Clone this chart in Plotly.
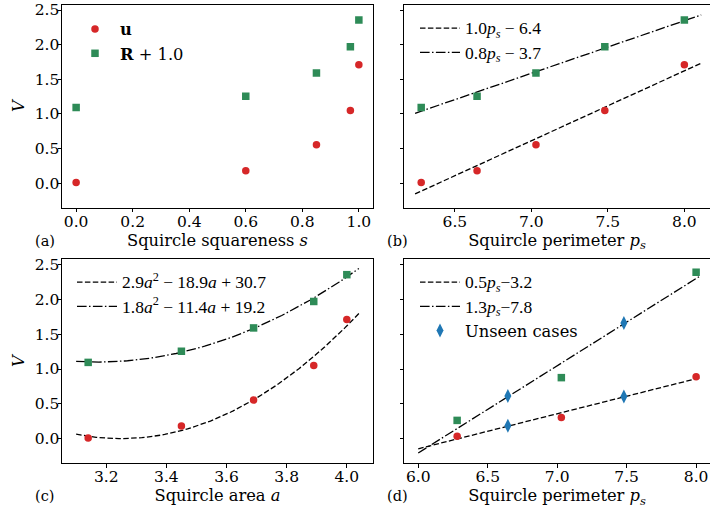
import numpy as np
import plotly.graph_objects as go

# ---------------- data ----------------
squareness = [0.0, 0.6, 0.85, 0.97, 1.0]
perimeter = [6.28, 6.645, 7.03, 7.48, 8.0]
area = [3.14, 3.45, 3.69, 3.89, 4.0]
u_vals = [0.01, 0.18, 0.555, 1.05, 1.71]
R_plus1 = [1.095, 1.255, 1.59, 1.97, 2.355]

# panel (d): training and unseen cases
train_perim = [6.28, 7.03, 8.0]
train_u = [0.033, 0.305, 0.89]
train_R = [0.262, 0.876, 2.39]
unseen_perim = [6.645, 7.48]
unseen_u = [0.186, 0.605]
unseen_R = [0.614, 1.662]

# spans of fitted curves
span_b = [6.24, 8.11]
span_c = [3.10, 4.04]
span_d = [6.00, 8.03]

PS = "<i>p</i><sub><i>s</i></sub>"
MATH = '<span style="font-family:Liberation Serif;font-size:17.5px">{}</span>'
legend_b = [MATH.format("1.0" + PS + " − 6.4"), MATH.format("0.8" + PS + " − 3.7")]
legend_c = [MATH.format("2.9<i>a</i><sup>2</sup> − 18.9<i>a</i> + 30.7"),
            MATH.format("1.8<i>a</i><sup>2</sup> − 11.4<i>a</i> + 19.2")]
legend_d = [MATH.format("0.5" + PS + "−3.2"), MATH.format("1.3" + PS + "−7.8"), "Unseen cases"]

RED = "#d62728"
GREEN = "#2e8b57"
BLUE = "#1f77b4"
FONT = "DejaVu Serif"
DASH = "5.5px,2.4px"
DASHDOT = "9.6px,2.4px,1.5px,2.4px"

fig = go.Figure()

def mk(x, y, color, symbol, xa, ya, name=None, legend=None, show=False, size=7.5):
    fig.add_trace(go.Scatter(x=x, y=y, mode="markers", xaxis=xa, yaxis=ya,
                             marker=dict(color=color, symbol=symbol, size=size,
                                         line=dict(width=0)),
                             name=name, legend=legend, showlegend=show))

def ln(x, y, dash, xa, ya, name, legend):
    fig.add_trace(go.Scatter(x=x, y=y, mode="lines", xaxis=xa, yaxis=ya,
                             line=dict(color="black", width=1.3, dash=dash),
                             name=name, legend=legend, showlegend=True))

# (a)
mk(squareness, u_vals, RED, "circle", "x", "y", "<b>u</b>", "legend", True)
mk(squareness, R_plus1, GREEN, "square", "x", "y", "<b>R</b> + 1.0", "legend", True)

# (b)
pb_u = np.polyfit(perimeter, u_vals, 1)
pb_R = np.polyfit(perimeter, R_plus1, 1)
xb = np.linspace(span_b[0], span_b[1], 50)
ln(xb, np.polyval(pb_u, xb), DASH, "x2", "y2", legend_b[0], "legend2")
ln(xb, np.polyval(pb_R, xb), DASHDOT, "x2", "y2", legend_b[1], "legend2")
mk(perimeter, u_vals, RED, "circle", "x2", "y2")
mk(perimeter, R_plus1, GREEN, "square", "x2", "y2")

# (c)
pc_u = np.polyfit(area, u_vals, 2)
pc_R = np.polyfit(area, R_plus1, 2)
xc = np.linspace(span_c[0], span_c[1], 100)
ln(xc, np.polyval(pc_u, xc), DASH, "x3", "y3", legend_c[0], "legend3")
ln(xc, np.polyval(pc_R, xc), DASHDOT, "x3", "y3", legend_c[1], "legend3")
mk(area, u_vals, RED, "circle", "x3", "y3")
mk(area, R_plus1, GREEN, "square", "x3", "y3")

# (d)
pd_u = np.polyfit(train_perim, train_u, 1)
pd_R = np.polyfit(train_perim, train_R, 1)
xd = np.linspace(span_d[0], span_d[1], 50)
ln(xd, np.polyval(pd_u, xd), DASH, "x4", "y4", legend_d[0], "legend4")
ln(xd, np.polyval(pd_R, xd), DASHDOT, "x4", "y4", legend_d[1], "legend4")
mk(train_perim, train_u, RED, "circle", "x4", "y4")
mk(train_perim, train_R, GREEN, "square", "x4", "y4")
mk(unseen_perim, unseen_u, BLUE, "diamond-tall", "x4", "y4", legend_d[2], "legend4", True, size=10)
mk(unseen_perim, unseen_R, BLUE, "diamond-tall", "x4", "y4", size=10)

W, H = 710, 509
def px(v):
    return v / W
def py(v):
    return 1 - v / H

dom_left = [px(62), px(373)]
dom_right = [px(404), 1.0]
dom_top = [py(207.5), py(4.5)]
dom_bot = [py(463), py(259)]
yrange = [-0.35, 2.58]

tickfont = dict(family=FONT, size=15.5, color="black")
titlefont = dict(family=FONT, size=16.3, color="black")

def xaxis(domain, anchor, rng, dtick, tick0, title, mirror=True):
    return dict(domain=domain, anchor=anchor, range=rng, dtick=dtick, tick0=tick0,
                tickformat=".1f", showline=True, linecolor="black", linewidth=1,
                mirror=mirror, ticks="outside", ticklen=3.5, tickcolor="black",
                tickwidth=1, showgrid=False, zeroline=False, tickfont=tickfont,
                ticklabelstandoff=-4,
                title=dict(text=title, font=titlefont, standoff=4), automargin=False)

def yaxis(domain, anchor, labels, mirror):
    return dict(domain=domain, anchor=anchor, range=yrange, dtick=0.5, tick0=0,
                tickformat=".1f", showline=True, linecolor="black", linewidth=1,
                mirror=mirror, ticks="outside", ticklen=3.5, tickcolor="black",
                tickwidth=1, showgrid=False, zeroline=False, tickfont=tickfont,
                showticklabels=labels, ticklabelstandoff=-5,
                title=dict(text="<i>V</i>" if labels else "",
                           font=dict(family=FONT, size=16.3, color="black"), standoff=6),
                automargin=False)

perim_title = "Squircle perimeter " + PS

legfont = dict(family=FONT, size=16.3, color="black")
def leg(x0, ytop):
    return dict(x=px(x0), y=py(ytop), xanchor="left", yanchor="top",
                bgcolor="rgba(0,0,0,0)", borderwidth=0, font=legfont,
                itemwidth=40, tracegroupgap=0)

fig.update_layout(
    width=W, height=H, margin=dict(l=0, r=0, t=0, b=0),
    paper_bgcolor="white", plot_bgcolor="white",
    xaxis=xaxis(dom_left, "y", [-0.05, 1.05], 0.2, 0, "Squircle squareness <i>s</i>"),
    yaxis=yaxis(dom_top, "x", True, True),
    xaxis2=xaxis(dom_right, "y2", [6.1675, 8.1675], 0.5, 6.5, perim_title),
    yaxis2=yaxis(dom_top, "x2", False, False),
    xaxis3=xaxis(dom_left, "y3", [3.053, 4.087], 0.2, 3.2, "Squircle area <i>a</i>"),
    yaxis3=yaxis(dom_bot, "x3", True, True),
    xaxis4=xaxis(dom_right, "y4", [5.8975, 8.1], 0.5, 6.0, perim_title),
    yaxis4=yaxis(dom_bot, "x4", False, False),
    legend=leg(70, 12),
    legend2=leg(415, 11),
    legend3=leg(72, 265),
    legend4=leg(415, 265),
    showlegend=True,
)

for lab, xc_, yc_ in [("(a)", 45, 241), ("(b)", 397, 241), ("(c)", 44, 496), ("(d)", 397, 496)]:
    fig.add_annotation(text=lab, x=px(xc_), y=py(yc_), xref="paper", yref="paper",
                       xanchor="center", yanchor="middle", showarrow=False,
                       font=dict(family=FONT, size=14.5, color="black"))

# remove the browser's default 8px page margin so the figure fills the window
fig.write_html("out.html", config={"displayModeBar": False},
               post_script="document.body.style.margin='0px';")
